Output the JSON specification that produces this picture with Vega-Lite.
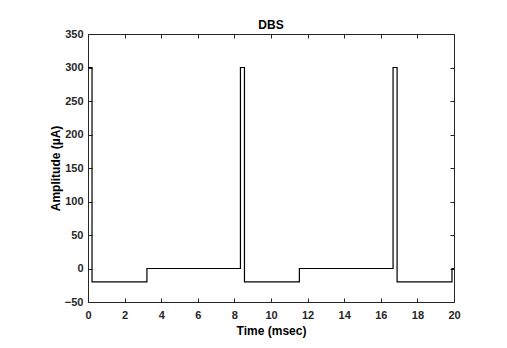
{
  "$schema": "https://vega.github.io/schema/vega-lite/v6.json",
  "width": 366,
  "height": 268,
  "autosize": {"type": "none"},
  "padding": {"left": 88, "top": 34, "right": 53, "bottom": 46},
  "background": "white",
  "config": {
    "view": {"stroke": null},
    "font": "Liberation Sans",
    "axis": {
      "domainColor": "#262626",
      "domainWidth": 1,
      "tickColor": "#262626",
      "tickSize": -4,
      "grid": false,
      "labelFont": "Liberation Sans",
      "labelFontSize": 11,
      "labelFontWeight": "bold",
      "labelColor": "#262626",
      "titleFont": "Liberation Sans",
      "titleFontSize": 12,
      "titleFontWeight": "bold",
      "titleColor": "#000000"
    }
  },
  "title": {"text": "DBS", "font": "Liberation Sans", "fontSize": 12, "fontWeight": "bold", "color": "#000000", "offset": -4},
  "data": {
    "values": [
      {"t": 0, "a": 300},
      {"t": 0.22, "a": -20},
      {"t": 3.22, "a": 0},
      {"t": 8.33, "a": 300},
      {"t": 8.55, "a": -20},
      {"t": 11.55, "a": 0},
      {"t": 16.67, "a": 300},
      {"t": 16.89, "a": -20},
      {"t": 19.89, "a": 0},
      {"t": 20, "a": 0}
    ]
  },
  "layer": [
    {
      "mark": {"type": "line", "interpolate": "step-after", "color": "#000000", "strokeWidth": 1.2},
      "encoding": {
        "x": {"field": "t", "type": "quantitative", "scale": {"domain": [0, 20], "nice": false, "zero": false},
          "axis": {"orient": "bottom", "values": [0, 2, 4, 6, 8, 10, 12, 14, 16, 18, 20], "title": "Time (msec)", "labelPadding": 11, "titlePadding": 5, "labelFlush": false}},
        "y": {"field": "a", "type": "quantitative", "scale": {"domain": [-50, 350], "nice": false, "zero": false},
          "axis": {"orient": "left", "values": [-50, 0, 50, 100, 150, 200, 250, 300, 350], "title": "Amplitude (µA)", "labelPadding": 9, "titlePadding": 2, "labelFlush": false}}
      }
    },
    {
      "mark": {"type": "line", "opacity": 0},
      "encoding": {
        "x": {"field": "t", "type": "quantitative", "scale": {"domain": [0, 20], "nice": false, "zero": false},
          "axis": {"orient": "top", "values": [0, 2, 4, 6, 8, 10, 12, 14, 16, 18, 20], "labels": false, "title": null}},
        "y": {"field": "a", "type": "quantitative", "scale": {"domain": [-50, 350], "nice": false, "zero": false},
          "axis": {"orient": "right", "values": [-50, 0, 50, 100, 150, 200, 250, 300, 350], "labels": false, "title": null}}
      }
    }
  ],
  "resolve": {"axis": {"x": "independent", "y": "independent"}}
}
